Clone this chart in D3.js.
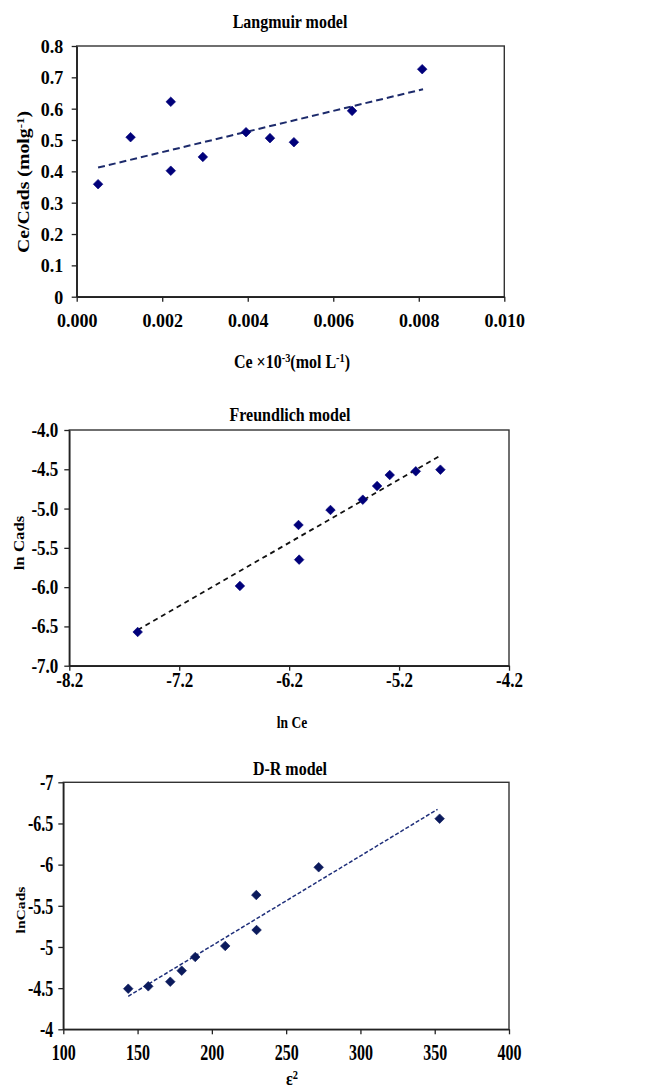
<!DOCTYPE html>
<html>
<head>
<meta charset="utf-8">
<script src="https://cdn.jsdelivr.net/npm/d3@7"></script>
<style>
  body { margin: 0; background: #fff; }
  svg text { font-family: "Liberation Serif", "Times New Roman", serif; font-weight: bold; fill: #000; }
</style>
</head>
<body>
<div id="chart"></div>
<script>
// --- data ---
const langmuirCe = [0.0005, 0.00126, 0.0022, 0.0022, 0.00295, 0.00396, 0.00452, 0.00508, 0.00644, 0.00808];
const langmuirRatio = [0.359, 0.509, 0.622, 0.402, 0.446, 0.525, 0.506, 0.493, 0.593, 0.726];
const langmuirTrendX = [0.0005, 0.0081];
const langmuirTrendY = [0.412, 0.662];
const langmuirXTicks = [0, 0.002, 0.004, 0.006, 0.008, 0.010];
const langmuirYTicks = [0, 0.1, 0.2, 0.3, 0.4, 0.5, 0.6, 0.7, 0.8];

const freundlichLnCe = [-7.578, -6.648, -6.115, -6.109, -5.824, -5.530, -5.400, -5.285, -5.048, -4.824];
const freundlichLnCads = [-6.571, -5.985, -5.209, -5.650, -5.018, -4.887, -4.713, -4.573, -4.526, -4.505];
const freundlichTrendX = [-7.578, -4.83];
const freundlichTrendY = [-6.545, -4.331];
const freundlichXTicks = [-8.2, -7.2, -6.2, -5.2, -4.2];
const freundlichYTicks = [-7.0, -6.5, -6.0, -5.5, -5.0, -4.5, -4.0];

const drEps2 = [143.7, 157.2, 172.0, 179.7, 188.8, 209.0, 230.1, 229.9, 271.9, 353.3];
const drLnCads = [-4.493, -4.522, -4.578, -4.712, -4.878, -5.012, -5.206, -5.631, -5.968, -6.558];
const drTrendX = [143.7, 351.9];
const drTrendY = [-4.401, -6.672];
const drXTicks = [100, 150, 200, 250, 300, 350, 400];
const drYTicks = [-7, -6.5, -6, -5.5, -5, -4.5, -4];

const svg = d3.select('#chart').append('svg').attr('width', 654).attr('height', 1092);

// panels, layout + styles (all three charts are stacked)
const panels = [
  {
    xs: langmuirCe, ys: langmuirRatio, tx: langmuirTrendX, ty: langmuirTrendY,
    xTicks: langmuirXTicks, yTicks: langmuirYTicks,
    xDomain: [0, 0.010], yDomain: [0, 0.8],
    xFmt: d => d.toFixed(3), yFmt: d => d === 0 ? '0' : d.toFixed(1),
    box: { left: 76.7, right: 504.3, top: 46, bottom: 296.7 },
    tickFont: 18, stretch: 1.1, xBase: 30, yOff: 13.4,
    markerColor: '#00007a', trendColor: '#1c2a6b', trendWidth: 2, dash: '7,4',
    title: 'Langmuir model', titleY: 28,
    xLabel: [['Ce ×10'], ['-3', 'sup'], ['(mol L'], ['-1', 'sup'], [')']], xLabelY: 368, xLabelSize: 16,
    yLabel: [['Ce/Cads  (molg'], ['-1', 'sup'], [')']], yLabelX: 29, yLabelY: 182, yLabelSize: 16.5
  },
  {
    xs: freundlichLnCe, ys: freundlichLnCads, tx: freundlichTrendX, ty: freundlichTrendY,
    xTicks: freundlichXTicks, yTicks: freundlichYTicks,
    xDomain: [-8.2, -4.2], yDomain: [-7, -4],
    xFmt: d => d.toFixed(1), yFmt: d => d.toFixed(1),
    box: { left: 69.3, right: 509, top: 430, bottom: 665.7 },
    tickFont: 17, stretch: 1.17, xBase: 21, yOff: 11,
    markerColor: '#00007a', trendColor: '#111', trendWidth: 1.8, dash: '5,4',
    title: 'Freundlich model', titleY: 421,
    xLabel: [['ln Ce']], xLabelY: 727.5, xLabelSize: 13.5,
    yLabel: [['ln Cads']], yLabelX: 24, yLabelY: 543, yLabelSize: 14
  },
  {
    xs: drEps2, ys: drLnCads, tx: drTrendX, ty: drTrendY,
    xTicks: drXTicks, yTicks: drYTicks,
    xDomain: [100, 400], yDomain: [-4, -7],
    xFmt: d => String(d), yFmt: d => String(d),
    box: { left: 63.3, right: 509, top: 782.3, bottom: 1029.3 },
    tickFont: 16, stretch: 1.38, xBase: 31, yOff: 10,
    markerColor: '#0b1a5c', trendColor: '#1f2f7a', trendWidth: 1.5, dash: '4,2',
    title: 'D-R model', titleY: 775,
    xLabel: [['ε'], ['2', 'sup']], xLabelY: 1085, xLabelSize: 16,
    yLabel: [['lnCads']], yLabelX: 25, yLabelY: 910, yLabelSize: 13
  }
];

panels.forEach(drawPanel);

function addRuns(text, runs) {
  // superscripts as tspans, then drop back to the baseline
  let up = false;
  runs.forEach(([s, kind]) => {
    const t = text.append('tspan').text(s);
    if (kind === 'sup') { t.attr('font-size', '0.65em').attr('dy', '-0.5em'); up = true; }
    else if (up) { t.attr('dy', '0.33em'); up = false; }
  });
}

function drawPanel(p) {
  const b = p.box;
  const g = svg.append('g');
  const x = d3.scaleLinear().domain(p.xDomain).range([b.left, b.right]);
  const y = d3.scaleLinear().domain(p.yDomain).range([b.bottom, b.top]);

  // frame
  g.append('rect')
    .attr('x', b.left).attr('y', b.top)
    .attr('width', b.right - b.left).attr('height', b.bottom - b.top)
    .attr('fill', 'none').attr('stroke', '#333').attr('stroke-width', 1.4);

  const xAxis = g.append('g')
    .attr('transform', `translate(0,${b.bottom})`)
    .call(d3.axisBottom(x).tickValues(p.xTicks).tickFormat(p.xFmt).tickSize(5).tickSizeOuter(0));
  const yAxis = g.append('g')
    .attr('transform', `translate(${b.left},0)`)
    .call(d3.axisLeft(y).tickValues(p.yTicks).tickFormat(p.yFmt).tickSize(5).tickSizeOuter(0));

  [xAxis, yAxis].forEach(a => {
    a.attr('font-family', null).attr('font-size', p.tickFont);
    a.select('.domain').attr('stroke', '#222').attr('stroke-width', 1.5);
    a.selectAll('.tick line').attr('stroke', '#222').attr('stroke-width', 1.3);
  });
  // tick labels are a bit tall in the source, stretch them
  xAxis.selectAll('.tick text')
    .attr('y', null).attr('dy', null)
    .attr('transform', `translate(0,${p.xBase}) scale(1,${p.stretch})`);
  yAxis.selectAll('.tick text')
    .attr('x', null).attr('dy', null)
    .attr('transform', `translate(${-p.yOff},${0.33 * p.tickFont * p.stretch}) scale(1,${p.stretch})`);

  // trend line
  g.append('path')
    .datum(d3.zip(p.tx, p.ty))
    .attr('d', d3.line().x(d => x(d[0])).y(d => y(d[1])))
    .attr('fill', 'none')
    .attr('stroke', p.trendColor)
    .attr('stroke-width', p.trendWidth)
    .attr('stroke-dasharray', p.dash);

  // diamonds
  g.selectAll('path.pt')
    .data(d3.zip(p.xs, p.ys))
    .join('path')
    .attr('class', 'pt')
    .attr('d', d3.symbol(d3.symbolSquare, 46))
    .attr('transform', d => `translate(${x(d[0])},${y(d[1])}) rotate(45)`)
    .attr('fill', p.markerColor)
    .attr('stroke', p.markerColor)
    .attr('stroke-width', 0.6);

  const cx = 290;
  g.append('text')
    .attr('text-anchor', 'middle')
    .attr('font-size', 16)
    .attr('transform', `translate(${cx},${p.titleY}) scale(1,1.2)`)
    .text(p.title);

  const xl = g.append('text')
    .attr('text-anchor', 'middle')
    .attr('font-size', p.xLabelSize)
    .attr('transform', `translate(${cx + 2},${p.xLabelY}) scale(1,1.2)`);
  addRuns(xl, p.xLabel);

  const yl = g.append('text')
    .attr('text-anchor', 'middle')
    .attr('font-size', p.yLabelSize)
    .attr('transform', `translate(${p.yLabelX},${p.yLabelY}) rotate(-90) scale(1.2,1)`);
  addRuns(yl, p.yLabel);
}
</script>
</body>
</html>
